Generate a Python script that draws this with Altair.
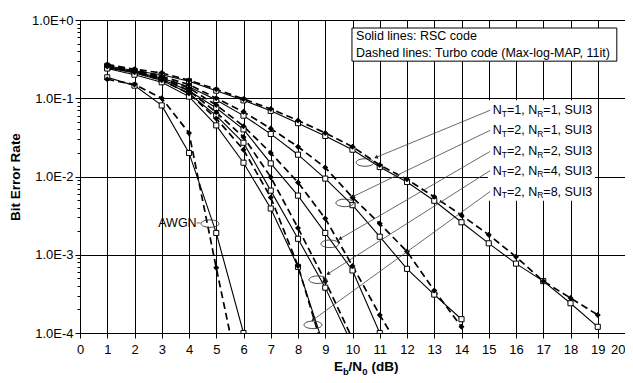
import altair as alt
import pandas as pd

FONT = "Liberation Sans"

# ---------------- data (BER vs Eb/N0) ----------------
series = ["AWGN", "NT1NR1", "NT2NR1", "NT2NR2", "NT2NR4", "NT2NR8"]

rsc_awgn = [0.185, 0.145, 0.081, 0.020, 0.0019, 1.0e-4]
turbo_awgn = [0.175, 0.150, 0.100, 0.036, 6.8e-4, 1.5e-5]

rsc_11 = [0.26, 0.225, 0.20, 0.165, 0.125, 0.094, 0.069, 0.048, 0.033, 0.022,
          0.0132, 0.0085, 0.0049, 0.0026, 0.0014, 7.7e-4, 4.6e-4, 2.4e-4, 1.2e-4]
turbo_11 = [0.27, 0.235, 0.21, 0.17, 0.13, 0.098, 0.073, 0.052, 0.036, 0.024,
            0.014, 0.0092, 0.0055, 0.0032, 0.0018, 9.4e-4, 4.6e-4, 2.8e-4, 1.7e-4]

rsc_21 = [0.25, 0.22, 0.18, 0.14, 0.095, 0.060, 0.035, 0.019, 0.0094, 0.0043,
          0.0017, 6.6e-4, 3.1e-4, 1.5e-4]
turbo_21 = [0.265, 0.23, 0.19, 0.15, 0.10, 0.067, 0.041, 0.024, 0.013, 0.0054,
            0.0025, 0.0011, 3.5e-4, 1.2e-4]

rsc_22 = [0.245, 0.215, 0.175, 0.125, 0.075, 0.040, 0.0147, 0.0057, 0.0019, 6.3e-4, 1.0e-4]
turbo_22 = [0.26, 0.225, 0.185, 0.135, 0.082, 0.044, 0.020, 0.0084, 0.0029, 7.2e-4, 1.7e-4, 4.5e-5]

rsc_24 = [0.245, 0.21, 0.17, 0.115, 0.060, 0.027, 0.0066, 0.0016, 3.8e-4, 7.0e-5]
turbo_24 = [0.26, 0.22, 0.18, 0.125, 0.066, 0.032, 0.0098, 0.0022, 4.6e-4, 8.4e-5]

rsc_28 = [0.24, 0.20, 0.16, 0.105, 0.045, 0.015, 0.0039, 7.0e-4, 6.0e-5]
turbo_28 = [0.255, 0.215, 0.17, 0.115, 0.055, 0.022, 0.0054, 7.2e-4, 5.0e-5]

rsc = dict(zip(series, [rsc_awgn, rsc_11, rsc_21, rsc_22, rsc_24, rsc_28]))
turbo = dict(zip(series, [turbo_awgn, turbo_11, turbo_21, turbo_22, turbo_24, turbo_28]))

x_ticks = list(range(0, 21))
y_decades = [1e-4, 1e-3, 1e-2, 1e-1, 1.0]
y_labels = ["1.0E-4", "1.0E-3", "1.0E-2", "1.0E-1", "1.0E+0"]

legend_lines = ["Solid lines: RSC code", "Dashed lines: Turbo code (Max-log-MAP, 11it)"]
nt_vals = ["1", "2", "2", "2", "2"]
nr_vals = ["1", "1", "2", "4", "8"]

# ---------------- annotation positions (data coords) ----------------
label_x = 15.15
label_y = [0.0702, 0.0389, 0.0209, 0.0119, 0.00643]
arrow_x0 = 15.05
arrow_tip_x = [10.86, 10.02, 9.54, 9.10, 8.55]
arrow_tip_y = [0.01753, 0.00554, 0.0016, 5.7e-4, 1.47e-4]
arrow_angle = [247.6, 244.3, 239.9, 237.6, 234.1]
ell_x = [4.77, 10.46, 9.72, 9.17, 8.73, 8.55]
ell_y = [2.5e-3, 0.0151, 4.6e-3, 1.38e-3, 4.8e-4, 1.27e-4]

# ---------------- build tables ----------------
def long(d):
    rows = []
    for s in series:
        for i, v in enumerate(d[s]):
            rows.append({"series": s, "x": i + 1, "ber": v})
    return pd.DataFrame(rows)

df_rsc = long(rsc)
df_turbo = long(turbo)

y_vals = []
for e in range(-4, 0):
    for k in range(1, 10):
        y_vals.append(float(f"{k}e{e}"))
y_vals.append(1.0)

major_test = " || ".join(f"datum.value == {v}" for v in y_decades)
label_expr = " : ".join(f"datum.value == {v} ? '{l}'" for v, l in zip(y_decades, y_labels)) + " : ''"

xscale = alt.Scale(domain=[0, 20], nice=False, zero=False)
yscale = alt.Scale(type="log", domain=[1e-4, 1], nice=False)

xaxis = alt.Axis(values=x_ticks, title=None, grid=True, gridColor="black", gridWidth=1,
                 tickSize=5, tickColor="black", domainColor="black", labelFontSize=13,
                 labelFont=FONT, labelColor="black", labelPadding=5, labelFlush=False,
                 labelAlign={"condition": {"test": f"datum.value == {x_ticks[-1]}",
                                           "value": "right"}, "value": "center"})
yaxis = alt.Axis(values=y_vals, title=None, labelExpr=label_expr, grid=True,
                 gridColor="black", gridWidth=1,
                 gridOpacity={"condition": {"test": major_test, "value": 1}, "value": 0},
                 tickSize={"condition": {"test": major_test, "value": 5}, "value": 3},
                 tickColor="black", domainColor="black", labelFontSize=13, labelFont=FONT,
                 labelColor="black", labelPadding=2)


def X(f="x"):
    return alt.X(f"{f}:Q", scale=xscale, axis=xaxis)


def Y(f="ber"):
    return alt.Y(f"{f}:Q", scale=yscale, axis=yaxis)


layers = []

# white background behind the curve labels
bg = pd.DataFrame({"x": [14.97], "x2": [18.9], "ber": [0.0944], "ber2": [0.0049]})
layers.append(alt.Chart(bg).mark_rect(fill="white", stroke=None).encode(
    x=X(), x2="x2:Q", y=Y(), y2="ber2:Q"))

# curves
layers.append(alt.Chart(df_rsc).mark_line(color="black", strokeWidth=1.1, clip=True).encode(
    x=X(), y=Y(), detail="series:N"))
layers.append(alt.Chart(df_turbo).mark_line(color="black", strokeWidth=1.7, strokeDash=[7, 4],
                                            clip=True).encode(x=X(), y=Y(), detail="series:N"))
layers.append(alt.Chart(df_rsc).mark_point(shape="square", size=26, filled=True, fill="white",
                                           stroke="black", strokeWidth=1, opacity=1,
                                           clip=True).encode(x=X(), y=Y()))
layers.append(alt.Chart(df_turbo).mark_point(shape="diamond", size=36, filled=True,
                                             color="black", opacity=1,
                                             clip=True).encode(x=X(), y=Y()))

# legend box
lg = pd.DataFrame({"x": [9.98], "x2": [19.7], "ber": [0.79], "ber2": [0.298]})
layers.append(alt.Chart(lg).mark_rect(fill="white", stroke="black", strokeWidth=1).encode(
    x=X(), x2="x2:Q", y=Y(), y2="ber2:Q"))
lt = pd.DataFrame({"x": [10.13, 10.13], "ber": [0.624, 0.378], "t": legend_lines})
layers.append(alt.Chart(lt).mark_text(align="left", baseline="middle", fontSize=12.5, font=FONT,
                                      color="black").encode(x=X(), y=Y(), text="t:N"))

# ellipses
ell = pd.DataFrame({"x": ell_x, "ber": ell_y})
ellipse_path = "M -1 0 A 1 0.42 0 1 0 1 0 A 1 0.42 0 1 0 -1 0 Z"
layers.append(alt.Chart(ell).mark_point(shape=ellipse_path, size=320, filled=False,
                                        stroke="#333", strokeWidth=0.9, opacity=1).encode(
    x=X(), y=Y()))

# arrows
ar = pd.DataFrame({"x": [arrow_x0] * 5, "ber": label_y, "x2": arrow_tip_x, "ber2": arrow_tip_y})
layers.append(alt.Chart(ar).mark_rule(color="#444", strokeWidth=0.8).encode(
    x=X(), y=Y(), x2="x2:Q", y2="ber2:Q"))
tips = pd.DataFrame({"x": arrow_tip_x, "ber": arrow_tip_y, "ang": arrow_angle})
layers.append(alt.Chart(tips).mark_point(shape="triangle-up", size=18, filled=True,
                                         color="#222", opacity=1).encode(
    x=X(), y=Y(), angle=alt.Angle("ang:Q", scale=None)))

# AWGN label
aw = pd.DataFrame({"x": [4.28], "ber": [2.55e-3], "x2": [4.42], "t": ["AWGN"]})
layers.append(alt.Chart(aw).mark_text(align="right", baseline="middle", fontSize=12.5, font=FONT,
                                      color="black").encode(x=X(), y=Y(), text="t:N"))
layers.append(alt.Chart(aw).mark_rule(color="#444", strokeWidth=0.8).encode(
    x=X(), y=Y(), x2="x2:Q"))

# curve labels with subscripts
MAIN, SUB = 12.5, 8.5
pieces = [
    (["N"] * 5, 0, 0, MAIN),
    (["T"] * 5, 9.0, 3.5, SUB),
    ([f"={v}, N" for v in nt_vals], 14.2, 0, MAIN),
    (["R"] * 5, 44.4, 3.5, SUB),
    ([f"={v}, SUI3" for v in nr_vals], 50.5, 0, MAIN),
]
for texts, dx, dy, fs in pieces:
    d = pd.DataFrame({"x": [label_x] * 5, "ber": label_y, "t": texts})
    layers.append(alt.Chart(d).mark_text(align="left", baseline="middle", dx=dx, dy=dy,
                                         fontSize=fs, font=FONT, color="black").encode(
        x=X(), y=Y(), text="t:N"))

# axis titles
one = pd.DataFrame({"t": ["Bit Error Rate"]})
layers.append(alt.Chart(one).mark_text(angle=270, align="center", baseline="middle",
                                       fontSize=13.5, fontWeight="bold", font=FONT,
                                       color="black").encode(
    x=alt.value(-64), y=alt.value(157), text="t:N"))

xt_pieces = [("E", 0, 0, 13.5), ("b", 9.0, 3.5, 9.5), ("/N", 14.6, 0, 13.5),
             ("0", 28.2, 3.5, 9.5), ("(dB)", 37.6, 0, 13.5)]
for t, dx, dy, fs in xt_pieces:
    d = pd.DataFrame({"t": [t]})
    layers.append(alt.Chart(d).mark_text(align="left", baseline="alphabetic", dx=dx, dy=dy,
                                         fontSize=fs, fontWeight="bold", font=FONT,
                                         color="black").encode(
        x=alt.value(254), y=alt.value(351), text="t:N"))

chart = alt.layer(*layers).properties(
    width=545, height=313,
    autosize=alt.AutoSizeParams(type="none"),
    padding={"left": 72, "top": 12, "right": 0, "bottom": 42},
).configure_view(stroke="black", strokeWidth=1).configure(background="white")

chart.save("out.html", embed_options={"renderer": "svg", "actions": False})
